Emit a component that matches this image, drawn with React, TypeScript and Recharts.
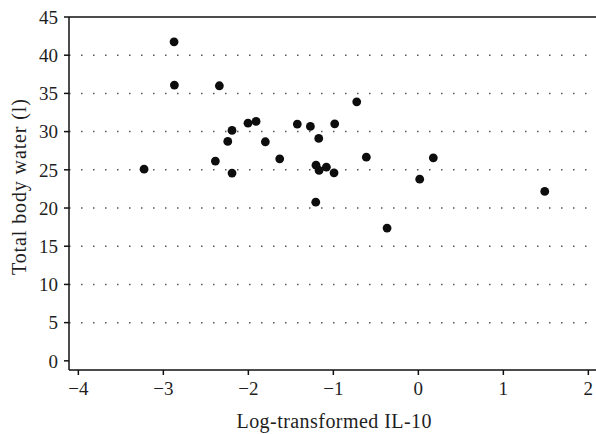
import { Label, ReferenceLine, Scatter, ScatterChart, XAxis, YAxis } from "recharts";

const il10 = [
  -2.874, -2.87, -2.341, -3.227, -0.725, -2.004, -1.909, -2.192, -2.242, -1.8, -2.388, -2.192, -1.631, -1.424,
  -1.27, -0.984, -1.172, -1.204, -1.168, -1.082, -0.992, -1.207, -0.612, 0.176, 0.016, -0.368, 1.487,
];
const bodyWater = [
  41.75, 36.09, 36.0, 25.09, 33.9, 31.11, 31.33, 30.16, 28.72, 28.67, 26.14, 24.57, 26.44, 30.98, 30.68, 31.02,
  29.11, 25.6, 24.92, 25.35, 24.61, 20.77, 26.66, 26.57, 23.78, 17.37, 22.17,
];
const xTicks = [-4, -3, -2, -1, 0, 1, 2];
const yTicks = [0, 5, 10, 15, 20, 25, 30, 35, 40, 45];
const gridLevels = [5, 10, 15, 20, 25, 30, 35, 40];

const points = il10.map((x, i) => ({ x, y: bodyWater[i] }));

const font = "'Liberation Serif', 'DejaVu Serif', serif";
const ink = "#1e1e1e";
const minus = (v: number) => (v < 0 ? "\u2212" + Math.abs(v) : String(v));

const Dot = (props: any) => <circle cx={props.cx} cy={props.cy} r={4.4} fill="#0d0d0d" />;

export default function App() {
  return (
    <div style={{ position: "absolute", left: 0, top: 0, width: 596, height: 434, background: "#fff" }}>
      <ScatterChart width={596} height={434} margin={{ top: 17, right: 0, bottom: 34, left: 24 }}>
        <XAxis
          type="number"
          dataKey="x"
          domain={[-4.11, 2.09]}
          ticks={xTicks}
          allowDataOverflow
          tickFormatter={minus}
          height={30}
          tickSize={5}
          tickMargin={7}
          axisLine={{ stroke: "#111", strokeWidth: 1.5 }}
          tickLine={{ stroke: "#111", strokeWidth: 1.5 }}
          tick={{ fill: ink, fontSize: 19, fontFamily: font }}
        >
          <Label
            content={() => (
              <text
                x={334}
                y={428}
                textAnchor="middle"
                textLength={195}
                lengthAdjust="spacing"
                style={{ fill: ink, fontSize: 20, fontFamily: font }}
              >
                Log-transformed IL-10
              </text>
            )}
          />
        </XAxis>
        <YAxis
          type="number"
          dataKey="y"
          domain={[-1.2, 45]}
          ticks={yTicks}
          allowDataOverflow
          width={45}
          tickSize={5}
          tickMargin={6}
          axisLine={{ stroke: "#111", strokeWidth: 1.5 }}
          tickLine={{ stroke: "#111", strokeWidth: 1.5 }}
          tick={{ fill: ink, fontSize: 19, fontFamily: font }}
        >
          <Label
            content={() => (
              <text
                transform="translate(26,187) rotate(-90)"
                textAnchor="middle"
                textLength={176}
                lengthAdjust="spacing"
                style={{ fill: ink, fontSize: 20, fontFamily: font }}
              >
                Total body water (l)
              </text>
            )}
          />
        </YAxis>
        {gridLevels.map((g) => (
          <ReferenceLine key={g} y={g} stroke="#555" strokeWidth={1.5} strokeDasharray="1.5 10.5" />
        ))}
        <ReferenceLine y={45} stroke="#111" strokeWidth={1.5} />
        <Scatter data={points} shape={Dot} isAnimationActive={false} />
      </ScatterChart>
    </div>
  );
}
